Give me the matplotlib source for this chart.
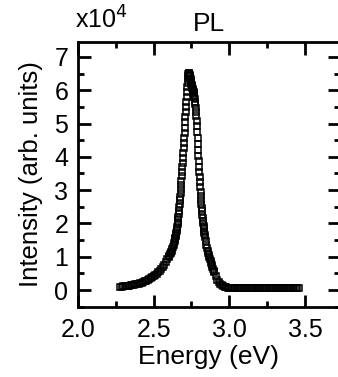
import matplotlib
matplotlib.use("Agg")
import matplotlib.pyplot as plt
from matplotlib.ticker import MultipleLocator

plt.rcParams['font.family'] = ['Liberation Sans', 'DejaVu Sans']

# Energy (eV)
energy = [
    2.28, 2.29, 2.30, 2.31, 2.32, 2.33, 2.34, 2.35, 2.36, 2.37, 2.38, 2.39,
    2.40, 2.41, 2.42, 2.43, 2.44, 2.45, 2.46, 2.47, 2.48, 2.49, 2.50, 2.51,
    2.52, 2.53, 2.54, 2.55, 2.56, 2.57, 2.58, 2.59, 2.60,
    2.604, 2.608, 2.612, 2.616, 2.620, 2.624, 2.628, 2.632, 2.636,
    2.640, 2.642, 2.644, 2.646, 2.648, 2.650, 2.652, 2.654, 2.656, 2.658,
    2.660, 2.662, 2.664, 2.666, 2.668, 2.670, 2.672, 2.674, 2.676, 2.678,
    2.680, 2.682, 2.684, 2.686, 2.688, 2.690, 2.692, 2.694, 2.696, 2.698,
    2.700, 2.702, 2.704, 2.706, 2.708, 2.710, 2.712, 2.714, 2.716, 2.718,
    2.720, 2.722, 2.724, 2.726, 2.728, 2.730, 2.732, 2.734, 2.736, 2.738,
    2.740, 2.742, 2.744, 2.746, 2.748, 2.750, 2.752, 2.754, 2.756, 2.758,
    2.760, 2.762, 2.764, 2.766, 2.768, 2.770, 2.772, 2.774, 2.776, 2.778,
    2.780, 2.782, 2.784, 2.786, 2.788, 2.790, 2.792, 2.794, 2.796, 2.798,
    2.800, 2.802, 2.804, 2.806, 2.808, 2.810, 2.812, 2.814, 2.816, 2.818,
    2.820, 2.822, 2.824, 2.826, 2.828, 2.830, 2.832, 2.834, 2.836, 2.838,
    2.840, 2.844, 2.848, 2.852, 2.856, 2.860, 2.864, 2.868, 2.872, 2.876,
    2.880, 2.884, 2.888, 2.892, 2.896,
    2.90, 2.91, 2.92, 2.93, 2.94, 2.95, 2.96, 2.97, 2.98, 2.99, 3.00, 3.01,
    3.02, 3.03, 3.04, 3.05, 3.06, 3.07, 3.08, 3.09, 3.10, 3.11, 3.12, 3.13,
    3.14, 3.15, 3.16, 3.17, 3.18, 3.19, 3.20, 3.21, 3.22, 3.23, 3.24, 3.25,
    3.26, 3.27, 3.28, 3.29, 3.30, 3.31, 3.32, 3.33, 3.34, 3.35, 3.36, 3.37,
    3.38, 3.39, 3.40, 3.41, 3.42, 3.43, 3.44, 3.45, 3.46,
]

# PL intensity (x10^4 arb. units)
intensity = [
    0.10, 0.10, 0.11, 0.11, 0.12, 0.12, 0.13, 0.14, 0.15, 0.16, 0.17, 0.18,
    0.19, 0.21, 0.22, 0.24, 0.26, 0.28, 0.30, 0.33, 0.36, 0.39, 0.42, 0.45,
    0.49, 0.53, 0.58, 0.63, 0.69, 0.76, 0.84, 0.92, 1.00,
    1.03, 1.07, 1.10, 1.14, 1.18, 1.23, 1.28, 1.34, 1.41,
    1.48, 1.52, 1.56, 1.61, 1.66, 1.71, 1.77, 1.83, 1.90, 1.97,
    2.04, 2.12, 2.20, 2.29, 2.38, 2.48, 2.58, 2.69, 2.80, 2.91,
    3.03, 3.15, 3.28, 3.41, 3.55, 3.69, 3.83, 3.97, 4.12, 4.27,
    4.42, 4.57, 4.73, 4.88, 5.04, 5.19, 5.35, 5.50, 5.66, 5.81,
    5.95, 6.09, 6.22, 6.33, 6.42, 6.48, 6.52, 6.52, 6.50, 6.46,
    6.42, 6.37, 6.33, 6.28, 6.24, 6.20, 6.16, 6.12, 6.08, 6.05,
    6.02, 5.98, 5.95, 5.91, 5.86, 5.80, 5.74, 5.66, 5.58, 5.48,
    5.36, 5.23, 5.08, 4.92, 4.75, 4.58, 4.40, 4.22, 4.04, 3.87,
    3.70, 3.54, 3.38, 3.23, 3.08, 2.94, 2.81, 2.69, 2.57, 2.46,
    2.36, 2.26, 2.17, 2.08, 2.00, 1.92, 1.85, 1.78, 1.71, 1.64,
    1.58, 1.46, 1.35, 1.25, 1.18, 1.12, 1.05, 0.98, 0.92, 0.86,
    0.80, 0.74, 0.68, 0.63, 0.58,
    0.53, 0.41, 0.31, 0.24, 0.19, 0.15, 0.12, 0.10, 0.08, 0.07, 0.06, 0.06,
    0.05, 0.05, 0.05, 0.05, 0.05, 0.05, 0.05, 0.05, 0.05, 0.05, 0.05, 0.05,
    0.05, 0.05, 0.05, 0.05, 0.05, 0.05, 0.05, 0.05, 0.05, 0.05, 0.05, 0.05,
    0.05, 0.05, 0.05, 0.05, 0.05, 0.05, 0.05, 0.05, 0.05, 0.05, 0.05, 0.05,
    0.05, 0.05, 0.05, 0.05, 0.05, 0.05, 0.05, 0.05, 0.05,
]

xticks = [2.0, 2.5, 3.0, 3.5]
xticklabels = ["2.0", "2.5", "3.0", "3.5"]
yticks = [0, 1, 2, 3, 4, 5, 6, 7]

fig = plt.figure(figsize=(3.38, 3.77), dpi=100)
ax = fig.add_axes([0.2308, 0.1857, 0.7743, 0.7029])

ax.plot(energy, intensity, linestyle='none', marker='s', markersize=4.2,
        markerfacecolor='none', markeredgecolor='black', markeredgewidth=1.1)

ax.set_xlim(2.0, 3.73)
ax.set_ylim(-0.51, 7.45)
ax.set_xticks(xticks)
ax.set_xticklabels(xticklabels)
ax.set_yticks(yticks)
ax.xaxis.set_minor_locator(MultipleLocator(0.25))
ax.yaxis.set_minor_locator(MultipleLocator(0.5))

ax.tick_params(which='both', direction='in', top=True, right=True,
               labelsize=18, width=2)
ax.tick_params(axis='x', which='both', pad=8)
ax.tick_params(axis='y', which='both', pad=7)
ax.tick_params(which='major', length=9)
ax.tick_params(which='minor', length=4.5)
for s in ax.spines.values():
    s.set_linewidth(2)

ax.set_xlabel("Energy (eV)", fontsize=19, labelpad=2)
ax.set_ylabel("Intensity (arb. units)", fontsize=18.5, labelpad=8)
ax.set_title("PL", fontsize=19, pad=8)
ax.text(-0.01, 1.03, r"x10$^4$", transform=ax.transAxes, fontsize=18,
        ha='left', va='bottom')

fig.savefig("out.png", dpi=100)
